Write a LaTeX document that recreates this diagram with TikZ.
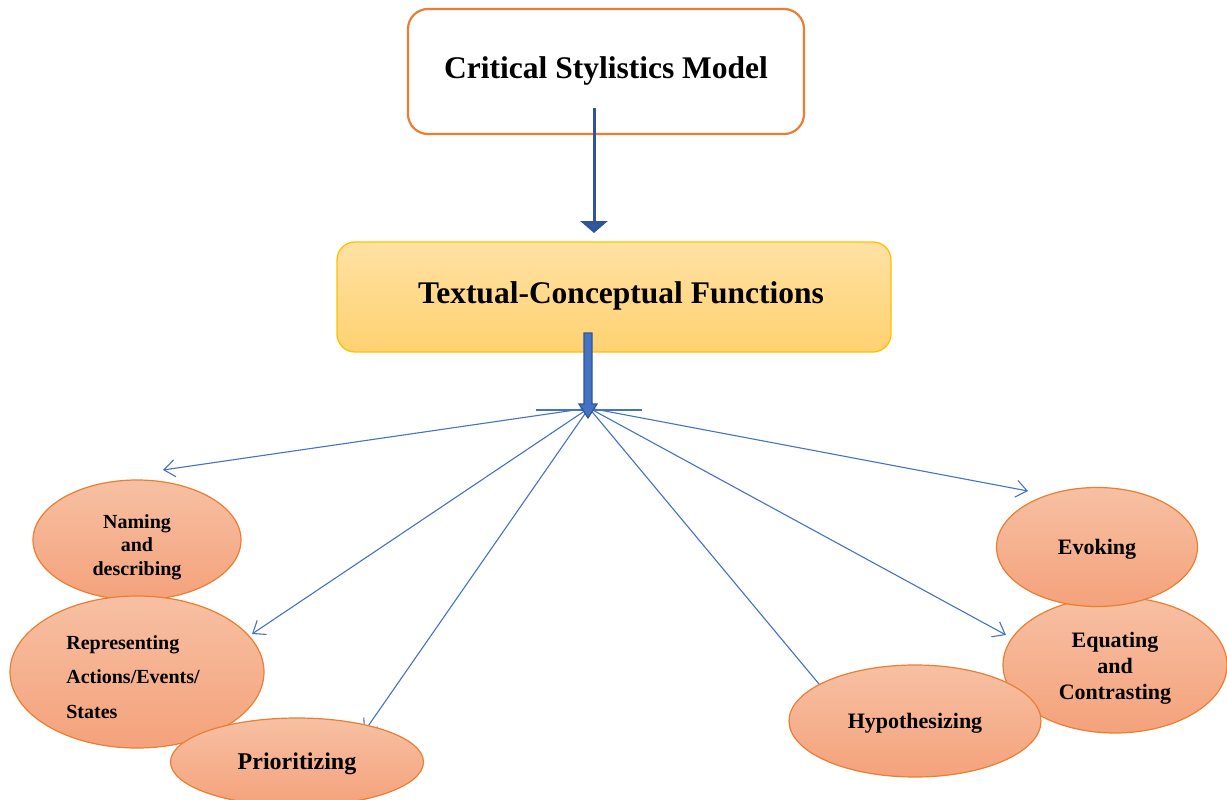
\documentclass[tikz,border=0pt]{standalone}
\usepackage{fontspec}
\setmainfont{Liberation Serif}
\usetikzlibrary{shapes.geometric,arrows.meta}
\definecolor{boxorange}{HTML}{ED7D31}
\definecolor{darkblue}{HTML}{2F5597}
\definecolor{midblue}{HTML}{4472C4}
\definecolor{gold}{HTML}{FFC000}
\definecolor{yeltop}{HTML}{FFE1A3}
\definecolor{yelbot}{HTML}{FFD271}
\definecolor{elltop}{HTML}{F7C0A3}
\definecolor{ellbot}{HTML}{F4A27B}
\tikzset{
  headbox/.style={draw=boxorange, line width=2.2pt, fill=white, rounded corners=20pt,
    minimum width=396pt, minimum height=125pt, inner sep=0pt},
  funcbox/.style={draw=gold, line width=1.3pt, rounded corners=18pt, top color=yeltop, bottom color=yelbot,
    minimum width=554pt, minimum height=110pt, inner sep=0pt},
  oval/.style={ellipse, draw=boxorange, line width=1.2pt, top color=elltop, bottom color=ellbot,
    inner sep=0pt, align=center, font=\bfseries\fontsize{20}{23.5}\selectfont},
  spoke/.style={draw=midblue, line width=1.1pt},
  spokearrow/.style={spoke, -{Straight Barb[length=11pt,width=17pt,line width=1.1pt]}},
  bigtext/.style={font=\bfseries\fontsize{31.5}{36}\selectfont}
}
\begin{document}
\begin{tikzpicture}[x=1pt,y=-1pt]
\useasboundingbox (0,0) rectangle (1227,800);
\clip (0,0) rectangle (1227,800);

% top box
\node[headbox] (model) at (606,71.5) {};
\node[bigtext] (modeltxt) at (606,71) {Critical Stylistics Model};

% second box
\node[funcbox] (func) at (614,297) {};
\node[bigtext] (functxt) at (621,296) {Textual-Conceptual Functions};

% arrow 1
\coordinate (a1s) at (594,108);
\coordinate (a1e) at (594,233);
\draw[darkblue, line width=3pt, -{Triangle[width=27pt,length=12pt,fill=darkblue!85!midblue]}] (a1s) -- (a1e);

% spokes (drawn under the ovals)
\coordinate (hub) at (589,408);
\coordinate (tNam) at (163,470);
\coordinate (tRep) at (252,634);
\coordinate (tPri) at (364,732);
\coordinate (tEvo) at (1028,491);
\coordinate (tEqu) at (1006,635);
\coordinate (tHyp) at (824,690);
\coordinate (hl) at (536,410);
\coordinate (hr) at (642,410);
\draw[spoke] (hl) -- (hr);
\draw[spokearrow] (hub) -- (tNam);
\draw[spokearrow] (hub) -- (tRep);
\draw[spokearrow] (hub) -- (tPri);
\draw[spokearrow] (hub) -- (tEvo);
\draw[spokearrow] (hub) -- (tEqu);
\draw[spoke] (hub) -- (tHyp);

% block arrow 2
\draw[darkblue, line width=1.2pt, fill=midblue]
  (584,333) -- (592,333) -- (592,404) -- (597,404) -- (588,418) -- (579,404) -- (584,404) -- cycle;

% left ovals
\node[oval, minimum width=208pt, minimum height=120pt] (nam) at (137,540) {};
\node[font=\bfseries\fontsize{20}{23.5}\selectfont, align=center] (namtxt) at (137,547) {Naming\\and\\describing};
\node[oval, minimum width=254pt, minimum height=152pt] (rep) at (137,672) {};
\node[font=\bfseries\fontsize{20}{34.5}\selectfont, align=left] (reptxt) at (133,677) {Representing\\Actions/Events/\\States};
\node[oval, minimum width=253pt, minimum height=88pt] (pri) at (297,762) {};
\node[font=\bfseries\fontsize{24}{28}\selectfont] (pritxt) at (297,764) {Prioritizing};

% right ovals
\node[oval, minimum width=224pt, minimum height=136pt] (equ) at (1115,665) {};
\node[font=\bfseries\fontsize{22}{26}\selectfont, align=center] (equtxt) at (1115,668) {Equating\\and\\Contrasting};
\node[oval, minimum width=201pt, minimum height=119pt] (evo) at (1097,547) {};
\node[font=\bfseries\fontsize{22}{26}\selectfont] (evotxt) at (1097,549) {Evoking};
\node[oval, minimum width=252pt, minimum height=112pt] (hyp) at (915,721) {};
\node[font=\bfseries\fontsize{22}{26}\selectfont] (hyptxt) at (915,723) {Hypothesizing};
\end{tikzpicture}
\end{document}
